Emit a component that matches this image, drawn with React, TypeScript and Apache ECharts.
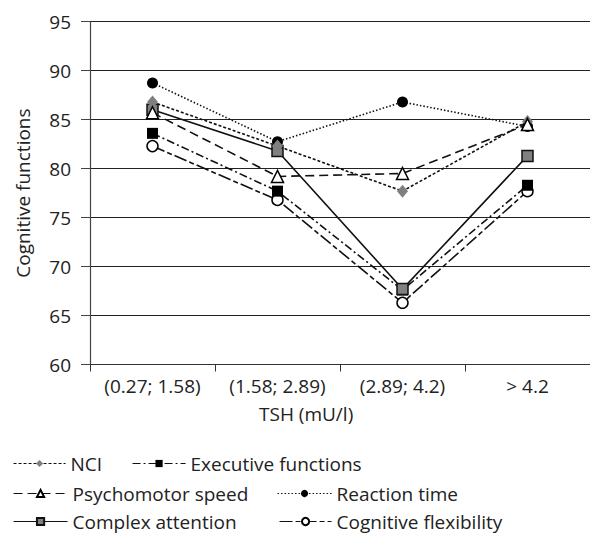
import React, { useEffect, useRef } from "react";
import * as echarts from "echarts";

const categories = ["(0.27; 1.58)", "(1.58; 2.89)", "(2.89; 4.2)", "> 4.2"];
const yTicks = { min: 60, max: 95, interval: 5 };

const nci = [86.8, 82.3, 77.7, 84.8];
const executive = [83.6, 77.7, 67.6, 78.3];
const psychomotor = [85.7, 79.2, 79.5, 84.5];
const reaction = [88.75, 82.75, 86.8, 84.3];
const complexAttention = [86.0, 81.8, 67.7, 81.3];
const flexibility = [82.3, 76.8, 66.3, 77.7];

const FONT = "Open Sans";
const FS = 19;

export default function App() {
  const ref = useRef<HTMLDivElement>(null);
  useEffect(() => {
    if (!ref.current) return;
    const chart = echarts.init(ref.current, null, { renderer: "svg" });
    const base = (name: string, data: number[], symbol: string, color: string, border: string, dash: any, z: number) => ({
      name,
      type: "line",
      data,
      symbol,
      symbolSize: symbol === "diamond" ? [11, 13] : symbol === "triangle" ? 12 : 11,
      z,
      lineStyle: { color: "#111", width: 1.6, type: dash },
      itemStyle: { color, borderColor: border, borderWidth: border === color ? 0 : 1.5, opacity: 1 },
      emphasis: { disabled: true },
    });
    const legendItem = (name: string, left: number, top: number, width: number) => ({
      data: [name],
      left,
      top,
      orient: "horizontal",
      itemWidth: width,
      itemHeight: 9,
      padding: 0,
      selectedMode: false,
      lineStyle: { width: 1.1 },
      textStyle: { fontFamily: FONT, fontSize: FS, color: "#222" },
    });
    chart.setOption({
      animation: false,
      grid: { left: 90, top: 21.7, right: -10, bottom: 170.5, containLabel: false },
      xAxis: {
        type: "category",
        data: categories,
        boundaryGap: true,
        axisLine: { lineStyle: { color: "#333", width: 1.2 } },
        axisTick: { show: true, length: 7, lineStyle: { color: "#333" } },
        axisLabel: { fontFamily: FONT, fontSize: FS, color: "#222", margin: 12, interval: 0, hideOverlap: false },
      },
      yAxis: {
        type: "value",
        min: yTicks.min,
        max: yTicks.max,
        interval: yTicks.interval,
        name: "Cognitive functions",
        nameLocation: "middle",
        nameGap: 58,
        nameTextStyle: { fontFamily: FONT, fontSize: FS, color: "#222" },
        axisLine: { show: true, lineStyle: { color: "#444", width: 1.2 } },
        axisTick: { show: true, length: 9, lineStyle: { color: "#444" } },
        axisLabel: { fontFamily: FONT, fontSize: FS, color: "#222", margin: 19 },
        splitLine: { show: true, lineStyle: { color: "#222", width: 1 } },
      },
      graphic: [
        {
          type: "text",
          left: 259,
          top: 404,
          style: { text: "TSH (mU/l)", fontFamily: FONT, fontSize: FS, fill: "#222" },
        },
      ],
      legend: [
        legendItem("NCI", 13, 454, 52),
        legendItem("Executive functions", 132, 454, 53),
        legendItem("Psychomotor speed", 13, 484, 54),
        legendItem("Reaction time", 277, 484, 54),
        legendItem("Complex attention", 13, 512, 54),
        legendItem("Cognitive flexibility", 279, 512, 52),
      ],
      series: [
        base("Reaction time", reaction, "circle", "#000", "#000", [1.5, 2], 2),
        base("Cognitive flexibility", flexibility, "circle", "#fff", "#000", [13, 3, 5, 3], 3),
        base("Executive functions", executive, "rect", "#000", "#000", [8, 3, 2, 3], 4),
        base("Complex attention", complexAttention, "rect", "#808080", "#111", "solid", 5),
        base("NCI", nci, "diamond", "#7f7f7f", "#7f7f7f", [3, 2], 6),
        base("Psychomotor speed", psychomotor, "triangle", "#fff", "#000", [9, 5], 7),
      ],
    });
    return () => chart.dispose();
  }, []);
  return <div ref={ref} style={{ position: "absolute", left: 0, top: 0, width: 590, height: 535 }} />;
}
